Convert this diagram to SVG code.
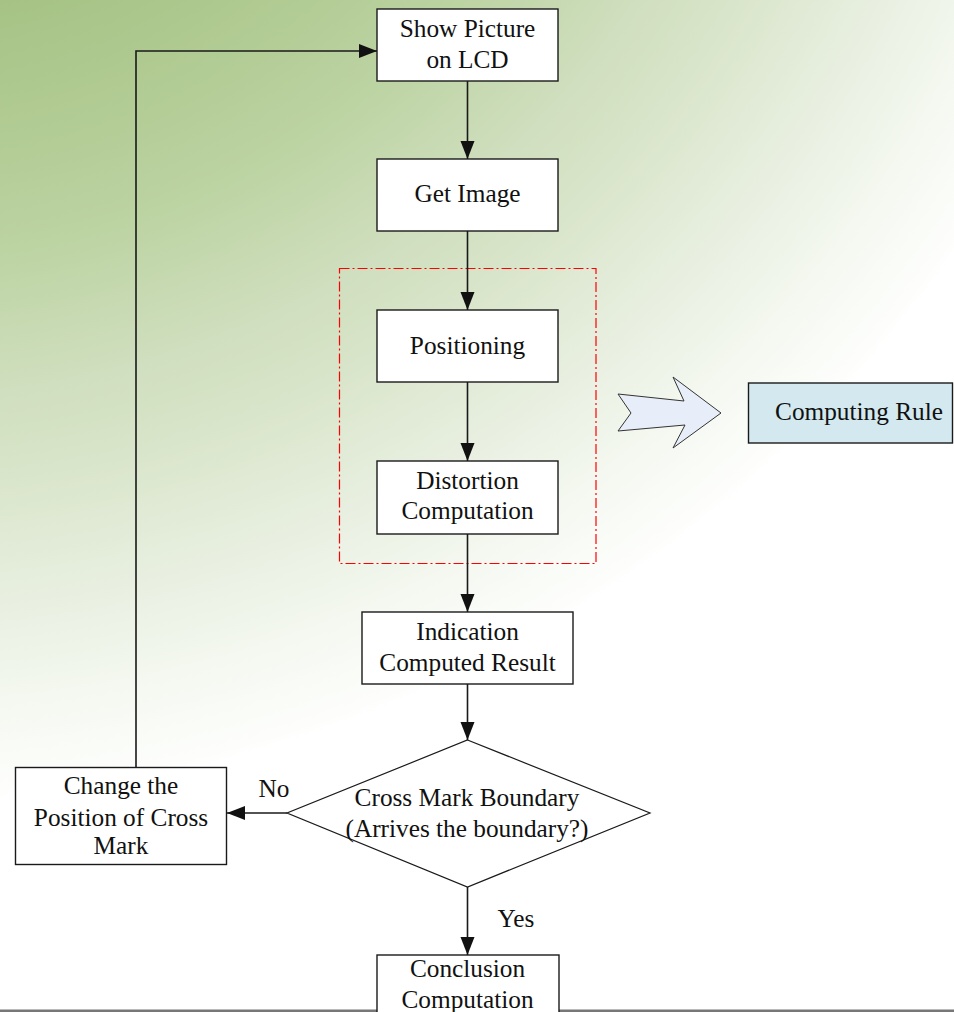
<svg xmlns="http://www.w3.org/2000/svg" width="954" height="1012" viewBox="0 0 954 1012">
  <defs>
    <radialGradient id="bg" gradientUnits="userSpaceOnUse" cx="-100" cy="-485" r="1290">
      <stop offset="0" stop-color="#a2c080"/>
      <stop offset="0.384" stop-color="#a6c385"/>
      <stop offset="0.575" stop-color="#bcd3a2"/>
      <stop offset="0.684" stop-color="#d0dfbf"/>
      <stop offset="0.73" stop-color="#d6e3c6"/>
      <stop offset="0.845" stop-color="#e8efe0"/>
      <stop offset="0.922" stop-color="#f4f8f0"/>
      <stop offset="0.99" stop-color="#fdfefc"/>
      <stop offset="1" stop-color="#ffffff"/>
    </radialGradient>
    <marker id="arr" markerUnits="userSpaceOnUse" markerWidth="20" markerHeight="16" refX="18" refY="7" orient="auto">
      <path d="M0,0 L18,7 L0,14 Z" fill="#111"/>
    </marker>
    <style>
      .box { fill: #ffffff; stroke: #1a1a1a; stroke-width: 1.4; }
      .txt { font-family: "Liberation Serif", "Times New Roman", serif; font-size: 25.3px; fill: #111; text-anchor: middle; }
      .con { fill: none; stroke: #1a1a1a; stroke-width: 1.6; }
    </style>
  </defs>

  <rect x="0" y="0" width="954" height="1012" fill="url(#bg)"/>
  <rect x="0" y="1009.5" width="954" height="2.5" fill="#777"/>

  <g id="region">
    <rect x="339.5" y="268.5" width="256.5" height="295" fill="none" stroke="#ff0000" stroke-width="1.2" stroke-dasharray="10 3 2 3"/>
  </g>

  <g id="connectors">
    <line class="con" x1="467.5" y1="81" x2="467.5" y2="159" marker-end="url(#arr)"/>
    <line class="con" x1="467.5" y1="231" x2="467.5" y2="310" marker-end="url(#arr)"/>
    <line class="con" x1="467.5" y1="382" x2="467.5" y2="461" marker-end="url(#arr)"/>
    <line class="con" x1="467.5" y1="534" x2="467.5" y2="612" marker-end="url(#arr)"/>
    <line class="con" x1="467.5" y1="684" x2="467.5" y2="740" marker-end="url(#arr)"/>
    <line class="con" x1="287" y1="813" x2="227" y2="813" marker-end="url(#arr)"/>
    <line class="con" x1="467.5" y1="887" x2="467.5" y2="955" marker-end="url(#arr)"/>
    <polyline class="con" points="136,767 136,51 377,51" marker-end="url(#arr)"/>
    <text class="txt" x="274" y="797">No</text>
    <text class="txt" x="516" y="927">Yes</text>
  </g>

  <g id="show">
    <rect class="box" x="377" y="9" width="181" height="72"/>
    <text class="txt" x="467.5" y="37">Show Picture</text>
    <text class="txt" x="467.5" y="68">on LCD</text>
  </g>
  <g id="get">
    <rect class="box" x="377" y="159" width="181" height="72"/>
    <text class="txt" x="467.5" y="202">Get Image</text>
  </g>
  <g id="positioning">
    <rect class="box" x="377" y="310" width="181" height="72"/>
    <text class="txt" x="467.5" y="354">Positioning</text>
  </g>
  <g id="distortion">
    <rect class="box" x="377" y="461" width="181" height="73"/>
    <text class="txt" x="467.5" y="489">Distortion</text>
    <text class="txt" x="467.5" y="519">Computation</text>
  </g>
  <g id="indication">
    <rect class="box" x="362" y="612" width="211" height="72"/>
    <text class="txt" x="467.5" y="640">Indication</text>
    <text class="txt" x="467.5" y="671">Computed Result</text>
  </g>
  <g id="decision">
    <polygon points="467.5,740 650,813 467.5,887 287,813" fill="none" stroke="#1a1a1a" stroke-width="1.2"/>
    <text class="txt" x="467" y="806">Cross Mark Boundary</text>
    <text class="txt" x="467" y="837">(Arrives the boundary?)</text>
  </g>
  <g id="change">
    <rect class="box" x="15.5" y="767.5" width="211" height="97"/>
    <text class="txt" x="121" y="794">Change the</text>
    <text class="txt" x="121" y="826">Position of Cross</text>
    <text class="txt" x="121" y="854">Mark</text>
  </g>
  <g id="conclusion">
    <rect class="box" x="377" y="955" width="182" height="70"/>
    <text class="txt" x="467.5" y="977">Conclusion</text>
    <text class="txt" x="467.5" y="1008">Computation</text>
  </g>
  <g id="bigarrow">
    <path d="M618,394 L684,401 L673,377 L721,413 L673,448 L685,425 L618,431 L631,413 Z" fill="#e8eef9" stroke="#333" stroke-width="1"/>
  </g>
  <g id="rule">
    <rect x="748.5" y="383" width="204" height="60" fill="#d3e9ef" stroke="#1a1a1a" stroke-width="1.4"/>
    <text class="txt" x="859" y="420">Computing Rule</text>
  </g>
</svg>
